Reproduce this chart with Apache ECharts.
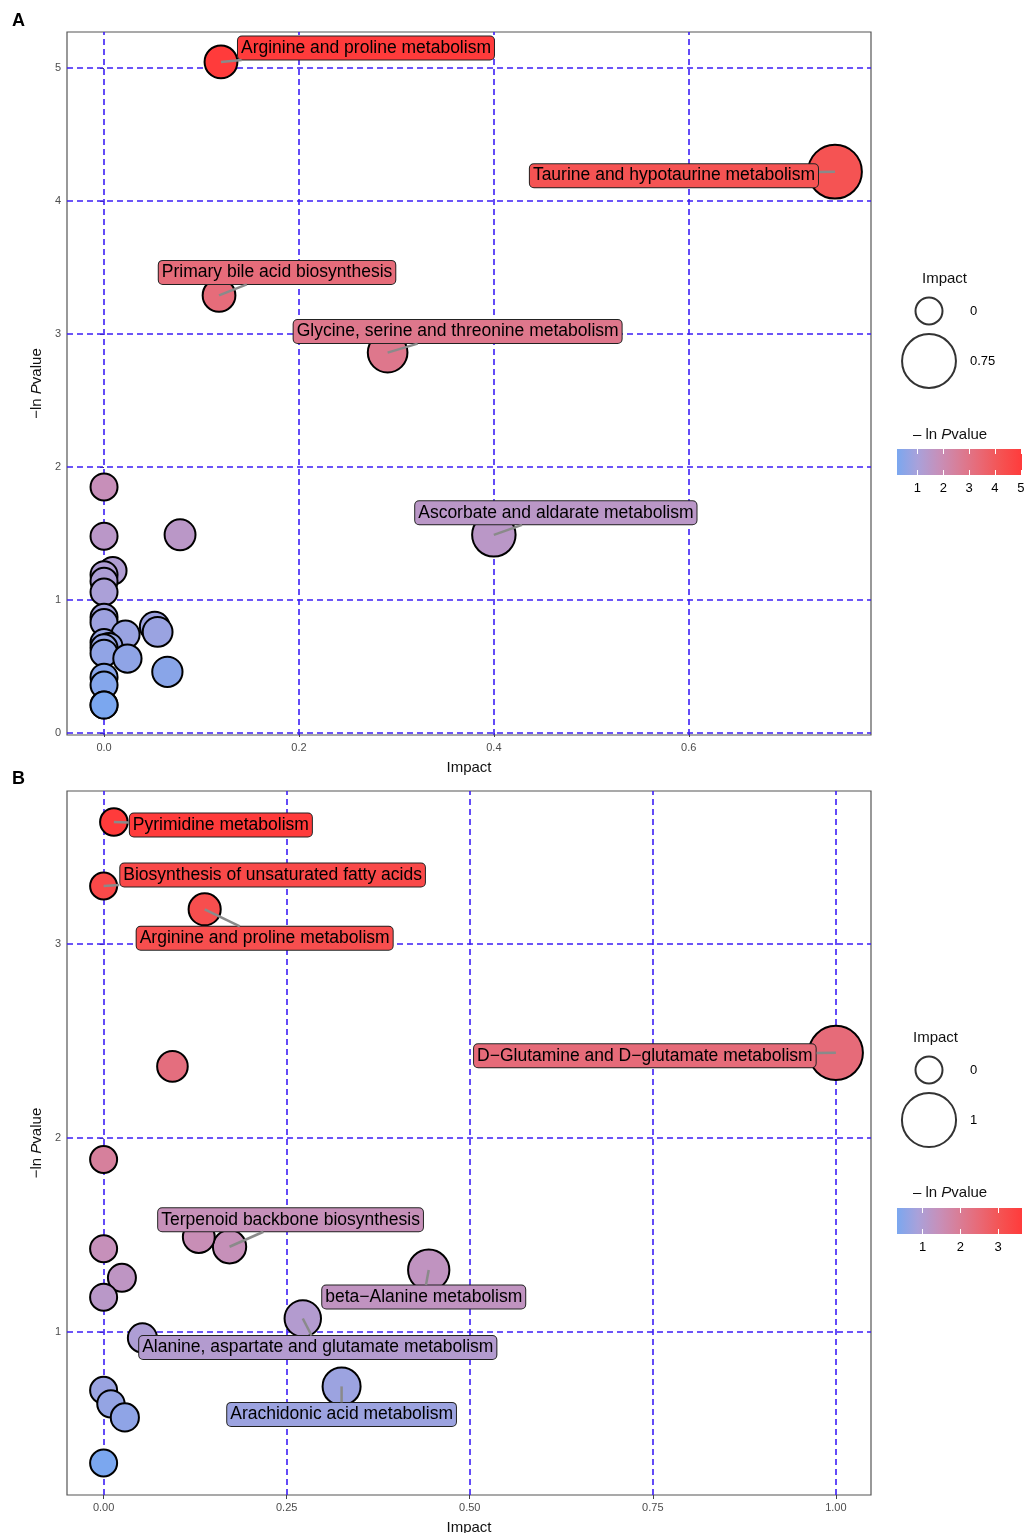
<!DOCTYPE html>
<html><head><meta charset="utf-8">
<script src="https://cdn.jsdelivr.net/npm/echarts@6/dist/echarts.min.js"></script>
<style>html,body{margin:0;padding:0;background:#fff}#c{width:1024px;height:1533px}</style>
</head><body><div id="c"></div>
<script>
// ---------- Panel A data ----------
const namesA = ['Arginine and proline metabolism','Taurine and hypotaurine metabolism','Primary bile acid biosynthesis','Glycine, serine and threonine metabolism','Ascorbate and aldarate metabolism',
  '','','','','','','','','','','','','','','','','','','','','',''];
const impactA = [0.12,0.75,0.118,0.291,0.40,
  0.078,0,0,0.009,0,0,0,0,0,0.022,0.052,0.055,0,0.005,0,0,0.024,0.065,0,0,0,0];
const pvalA = [5.045,4.22,3.29,2.86,1.49,
  1.49,1.85,1.48,1.22,1.19,1.14,1.06,0.87,0.83,0.74,0.80,0.76,0.68,0.65,0.64,0.60,0.56,0.46,0.42,0.36,0.21,0.21];
const xTicksA = [0,0.2,0.4,0.6];
const yTicksA = [0,1,2,3,4,5];
const sizeLegendA = [0,0.75];
const colorTicksA = [1,2,3,4,5];

// ---------- Panel B data ----------
const namesB = ['Pyrimidine metabolism','Biosynthesis of unsaturated fatty acids','Arginine and proline metabolism','D\u2212Glutamine and D\u2212glutamate metabolism','Terpenoid backbone biosynthesis','beta\u2212Alanine metabolism','Alanine, aspartate and glutamate metabolism','Arachidonic acid metabolism',
  '','','','','','','','','','',''];
const impactB = [0.014,0,0.138,1.0,0.172,0.444,0.272,0.325,
  0.094,0,0.13,0,0.025,0,0.053,0,0.01,0.029,0];
const pvalB = [3.63,3.30,3.18,2.44,1.44,1.32,1.07,0.72,
  2.37,1.89,1.49,1.43,1.28,1.18,0.97,0.70,0.63,0.56,0.325];
const xTicksB = [0,0.25,0.5,0.75,1];
const yTicksB = [1,2,3];
const sizeLegendB = [0,1];
const colorTicksB = [1,2,3];

// ---------- styles / layout ----------
const FONT = 'Liberation Sans, Arial, Helvetica, sans-serif';
const LABEL_FS = 17.5;
const colorStops = ['#7BA7EF','#A9A1DA','#C690BA','#D97D96','#E96874','#F55252','#FF3B3B'];
const labelOffsetsA = {
  'Arginine and proline metabolism':[145,-14],
  'Taurine and hypotaurine metabolism':[-161,4],
  'Primary bile acid biosynthesis':[58,-23],
  'Glycine, serine and threonine metabolism':[70,-21],
  'Ascorbate and aldarate metabolism':[62,-22]
};
const labelOffsetsB = {
  'Pyrimidine metabolism':[107,3],
  'Biosynthesis of unsaturated fatty acids':[169,-11],
  'Arginine and proline metabolism':[60,29],
  'D\u2212Glutamine and D\u2212glutamate metabolism':[-191,3],
  'Terpenoid backbone biosynthesis':[61,-27],
  'beta\u2212Alanine metabolism':[-5,27],
  'Alanine, aspartate and glutamate metabolism':[15,29],
  'Arachidonic acid metabolism':[0,28]
};

const mctx=document.createElement('canvas').getContext('2d');
mctx.font=LABEL_FS+'px '+FONT;
function textW(s){return mctx.measureText(s).width;}

function hex(h){return [parseInt(h.slice(1,3),16),parseInt(h.slice(3,5),16),parseInt(h.slice(5,7),16)];}
function colorAt(t){
  t=Math.max(0,Math.min(1,t));
  const n=colorStops.length-1, f=t*n, i=Math.min(Math.floor(f),n-1), u=f-i;
  const a=hex(colorStops[i]), b=hex(colorStops[i+1]);
  const c=a.map((v,k)=>Math.round(v+(b[k]-v)*u));
  return 'rgb('+c.join(',')+')';
}
function sizeFn(v,k){return Math.sqrt(729+k*v);}

const grid=[], xAxis=[], yAxis=[], series=[];

function addPanel(p){
  const cmin=Math.min(...p.pval), cmax=Math.max(...p.pval);
  const g=grid.length;
  grid.push({left:67, top:p.top, width:804, height:p.height, show:true, borderColor:'#555', borderWidth:1.2, backgroundColor:'#fff', outerBoundsMode:'none', containLabel:false});
  const xi=xAxis.length, yi=yAxis.length;
  xAxis.push({gridIndex:g, type:'value', min:p.xmin, max:p.xmax,
    name:'Impact', nameLocation:'middle', nameGap:25,
    nameTextStyle:{fontSize:15, color:'#111', fontFamily:FONT},
    axisLine:{show:false},
    axisTick:{show:true, customValues:p.xTicks, length:4, lineStyle:{color:'#444'}},
    axisLabel:{customValues:p.xTicks, formatter:v=>v.toFixed(p.xdec), fontSize:11, color:'#4d4d4d', margin:7, fontFamily:FONT},
    splitLine:{show:false}});
  yAxis.push({gridIndex:g, type:'value', min:p.ymin, max:p.ymax,
    name:'\u2212ln {i|P}value', nameLocation:'middle', nameGap:19,
    nameTextStyle:{fontSize:15, color:'#111', fontFamily:FONT, rich:{i:{fontStyle:'italic', fontSize:15, color:'#111', fontFamily:FONT}}},
    axisLine:{show:false},
    axisTick:{show:true, customValues:p.yTicks, length:4, lineStyle:{color:'#444'}},
    axisLabel:{customValues:p.yTicks, formatter:v=>String(v), fontSize:11, color:'#4d4d4d', margin:6, fontFamily:FONT},
    splitLine:{show:false}});
  // grid lines
  series.push({type:'scatter', xAxisIndex:xi, yAxisIndex:yi, data:[], silent:true, z:1,
    markLine:{silent:true, symbol:['none','none'], label:{show:false},
      lineStyle:{type:[6,4], color:'#3d1ef5', width:1.6},
      emphasis:{disabled:true},
      data:p.xTicks.map(v=>({xAxis:v})).concat(p.yTicks.map(v=>({yAxis:v})))}});
  // points
  const data=p.impact.map((x,i)=>{
    const col=colorAt((p.pval[i]-cmin)/(cmax-cmin));
    const it={value:[x,p.pval[i]], name:p.names[i], symbolSize:sizeFn(x,p.k), itemStyle:{color:col}};
    it.label = p.names[i] ? {show:true, backgroundColor:col} : {show:false};
    return it;
  });
  series.push({type:'scatter', xAxisIndex:xi, yAxisIndex:yi, z:5, data:data,
    itemStyle:{borderColor:'#000', borderWidth:2, opacity:1},
    label:{position:'inside', formatter:'{b}', fontSize:LABEL_FS, color:'#000', fontFamily:FONT,
      borderColor:'#222', borderWidth:1, borderRadius:4, padding:[3,3,2,3]},
    labelLayout:function(params){const o=p.offsets[p.names[params.dataIndex]]; return o?{dx:o[0],dy:o[1]}:{};},
    emphasis:{disabled:true}});
  // leader segments (point centre -> label box, along the line to the label centre)
  const segData=[];
  p.names.forEach((n,i)=>{ if(n) segData.push([p.impact[i], p.pval[i], i]); });
  series.push({type:'custom', xAxisIndex:xi, yAxisIndex:yi, z:6, silent:true, data:segData,
    renderItem:function(params,api){
      const c=api.coord([api.value(0),api.value(1)]);
      const name=p.names[api.value(2)];
      const o=p.offsets[name];
      const hw=textW(name)/2+4, hh=12;
      const dx=o[0], dy=o[1];
      let tx=-Infinity, ty=-Infinity;
      if(dx>0) tx=(dx-hw)/dx; else if(dx<0) tx=(dx+hw)/dx;
      if(dy>0) ty=(dy-hh)/dy; else if(dy<0) ty=(dy+hh)/dy;
      let t=Math.max(tx,ty);
      if(!isFinite(t) || t<=0) return null;
      return {type:'line', shape:{x1:c[0], y1:c[1], x2:c[0]+t*dx, y2:c[1]+t*dy},
        style:{stroke:'#8a8a8a', lineWidth:2.5}};
    }});
  // size legend
  const g2=grid.length;
  grid.push({left:903, top:p.sizeTop, width:52, height:100, outerBoundsMode:'none'});
  const xi2=xAxis.length, yi2=yAxis.length;
  xAxis.push({gridIndex:g2, type:'value', min:0, max:1, show:false});
  yAxis.push({gridIndex:g2, type:'category', data:p.sizeLegend.map(String), inverse:true, position:'right',
    axisLine:{show:false}, axisTick:{show:false}, splitLine:{show:false},
    axisLabel:{margin:15, fontSize:13, color:'#000', fontFamily:FONT}});
  series.push({type:'scatter', xAxisIndex:xi2, yAxisIndex:yi2, silent:true,
    data:p.sizeLegend.map((v,i)=>({value:[0.5,i], symbolSize:sizeFn(v,p.k)})),
    itemStyle:{color:'#fff', borderColor:'#000', borderWidth:2}});
  // colour bar
  const g3=grid.length;
  grid.push({left:897, top:p.barTop, width:125, height:26, outerBoundsMode:'none'});
  const xi3=xAxis.length, yi3=yAxis.length;
  xAxis.push({gridIndex:g3, type:'value', min:cmin, max:cmax, z:10,
    axisLine:{show:false}, splitLine:{show:false},
    axisTick:{show:true, inside:true, length:5, customValues:p.colorTicks, lineStyle:{color:'#fff', width:1}},
    axisLabel:{customValues:p.colorTicks, formatter:v=>String(v), fontSize:13, color:'#000', margin:7, fontFamily:FONT}});
  xAxis.push({gridIndex:g3, type:'value', min:cmin, max:cmax, z:10, position:'top',
    axisLine:{show:false}, splitLine:{show:false}, axisLabel:{show:false},
    axisTick:{show:true, inside:true, length:5, customValues:p.colorTicks, lineStyle:{color:'#fff', width:1}}});
  yAxis.push({gridIndex:g3, type:'value', min:0, max:1, show:false});
  series.push({type:'custom', xAxisIndex:xi3, yAxisIndex:yi3, silent:true, z:2,
    data:[[cmin,cmax]],
    renderItem:function(params,api){
      const p0=api.coord([api.value(0),0]), p1=api.coord([api.value(1),1]);
      return {type:'rect', shape:{x:p0[0], y:p1[1], width:p1[0]-p0[0], height:p0[1]-p1[1]},
        style:{fill:new echarts.graphic.LinearGradient(0,0,1,0,
          colorStops.map((c,i)=>({offset:i/(colorStops.length-1), color:c})))}};
    }});
}

addPanel({names:namesA, impact:impactA, pval:pvalA, xTicks:xTicksA, yTicks:yTicksA, sizeLegend:sizeLegendA, colorTicks:colorTicksA,
  offsets:labelOffsetsA, top:32, height:703, xmin:-0.038, xmax:0.787, ymin:-0.015, ymax:5.27, xdec:1, k:2900,
  sizeTop:286, barTop:449});
addPanel({names:namesB, impact:impactB, pval:pvalB, xTicks:xTicksB, yTicks:yTicksB, sizeLegend:sizeLegendB, colorTicks:colorTicksB,
  offsets:labelOffsetsB, top:791, height:704, xmin:-0.05, xmax:1.048, ymin:0.16, ymax:3.79, xdec:2, k:2200,
  sizeTop:1045, barTop:1208});

const tStyle={fontSize:15, fontWeight:'normal', color:'#111', fontFamily:FONT};
const richI={i:{fontStyle:'italic', fontSize:15, color:'#111', fontFamily:FONT}};
const title=[
  {text:'A', left:12, top:12, padding:0, textStyle:{fontSize:18, fontWeight:'bold', color:'#000', fontFamily:FONT}},
  {text:'B', left:12, top:770, padding:0, textStyle:{fontSize:18, fontWeight:'bold', color:'#000', fontFamily:FONT}},
  {text:'Impact', left:922, top:271, padding:0, textStyle:tStyle},
  {text:'Impact', left:913, top:1030, padding:0, textStyle:tStyle},
  {text:'\u2013 ln {i|P}value', left:913, top:427, padding:0, textStyle:Object.assign({rich:richI},tStyle)},
  {text:'\u2013 ln {i|P}value', left:913, top:1185, padding:0, textStyle:Object.assign({rich:richI},tStyle)}
];

const chart=echarts.init(document.getElementById('c'), null, {renderer:'canvas'});
chart.setOption({animation:false, backgroundColor:'#fff', title, grid, xAxis, yAxis, series});
</script></body></html>
